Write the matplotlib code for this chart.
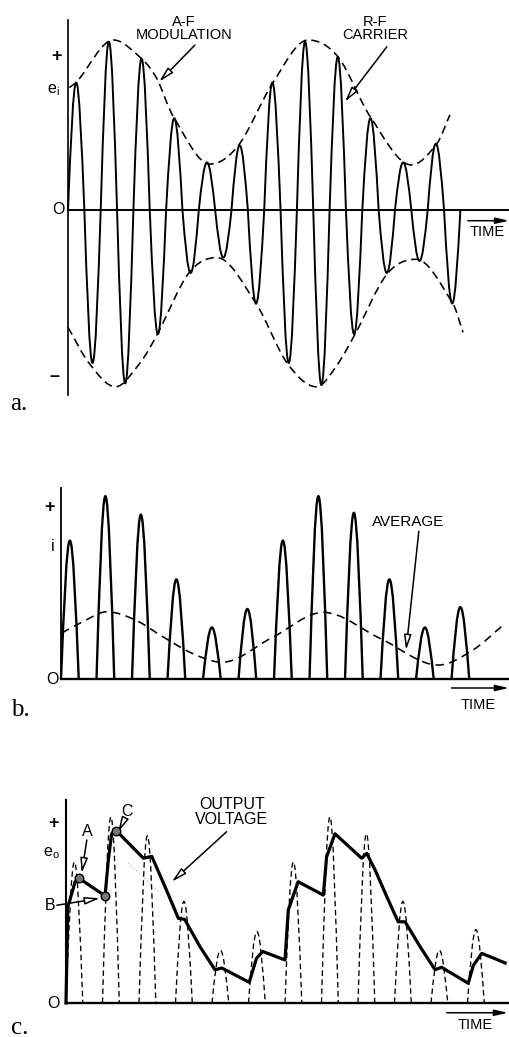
import numpy as np
import matplotlib
matplotlib.use('Agg')
import matplotlib.pyplot as plt
from matplotlib.path import Path
from matplotlib.patches import PathPatch

plt.rcParams['font.family'] = ['Liberation Sans', 'DejaVu Sans']
plt.rcParams['lines.scale_dashes'] = False

# Datos (tiempo en ciclos de RF, amplitud normalizada)
# Picos de cada semiciclo de la portadora modulada
picos_pos = [0.75, 0.99, 0.89, 0.54, 0.28, 0.38, 0.75, 0.99, 0.90, 0.54, 0.28, 0.39]
picos_neg = [-0.90, -1.02, -0.73, -0.37, -0.28, -0.55, -0.90, -1.03, -0.73, -0.37, -0.30, -0.55]

# Envolvente (modulacion A-F) en la figura a
env_sup_t = [0.04, 0.27, 1.39, 2.25, 2.71, 3.22, 4.34, 5.21, 6.27, 7.34, 8.26, 9.24, 10.5, 11.28, 11.68]
env_sup_v = [0.72, 0.755, 1.00, 0.89, 0.775, 0.55, 0.27, 0.38, 0.75, 1.00, 0.90, 0.55, 0.265, 0.39, 0.56]
env_inf_t = [0.0, 0.64, 1.45, 2.2, 2.72, 3.70, 4.55, 5.75, 6.70, 7.6, 8.2, 8.78, 9.76, 10.65, 11.77, 12.08]
env_inf_v = [-0.69, -0.90, -1.04, -0.90, -0.735, -0.37, -0.28, -0.55, -0.90, -1.04, -0.92, -0.73, -0.376, -0.29, -0.55, -0.72]

# Corriente promedio en la figura b
prom_t = [0.02, 0.6, 1.29, 2.1, 2.87, 3.7, 4.53, 5.96, 7.39, 9.0, 10.63, 11.6, 12.5]
prom_v = [0.25, 0.31, 0.365, 0.32, 0.23, 0.14, 0.092, 0.227, 0.362, 0.22, 0.077, 0.158, 0.30]

# Tension de salida en la figura c
sal_t = [0.0, 0.05, 0.25, 0.36, 1.07, 1.16, 1.25, 1.36, 2.12, 2.35, 2.71, 3.08, 3.25,
         3.67, 4.08, 4.27, 5.02, 5.22, 5.39, 6.0, 6.09, 6.36, 7.05, 7.14, 7.37, 8.10,
         8.24, 8.47, 8.79, 9.10, 9.29, 9.70, 10.11, 10.29, 11.02, 11.16, 11.39, 11.71, 12.03]
sal_v = [0.0, 0.51, 0.645, 0.663, 0.57, 0.76, 0.90, 0.92, 0.77, 0.78, 0.62, 0.45, 0.445,
         0.30, 0.177, 0.186, 0.11, 0.238, 0.274, 0.229, 0.495, 0.645, 0.574, 0.778, 0.90, 0.77,
         0.796, 0.707, 0.565, 0.432, 0.432, 0.30, 0.177, 0.19, 0.105, 0.20, 0.264, 0.239, 0.213]

# Puntos A, B, C
puntos_nombre = ['A', 'B', 'C']
puntos_t = [0.36, 1.07, 1.38]
puntos_v = [0.663, 0.57, 0.915]

W, H = 509, 1037
fig = plt.figure(figsize=(W / 100, H / 100), dpi=100)


def ejes(y0, y1, x_origen, px_ciclo, y_cero, px_unidad):
    ax = fig.add_axes([0, 1 - y1 / H, 1, (y1 - y0) / H])
    ax.set_xlim(-x_origen / px_ciclo, (W - x_origen) / px_ciclo)
    ax.set_ylim((y_cero - y1) / px_unidad, (y_cero - y0) / px_unidad)
    ax.axis('off')
    return ax


def lobulos(inicios, anchos, picos, unir=False):
    # semiciclos senoidales aproximados con curvas de Bezier
    verts, codes = [], []
    for i, (t0, w, p) in enumerate(zip(inicios, anchos, picos)):
        h = w / 2
        verts += [(t0, 0), (t0 + 0.3261 * h, 0.5123 * p), (t0 + 0.6381 * h, p), (t0 + h, p),
                  (t0 + 1.3619 * h, p), (t0 + 1.6739 * h, 0.5123 * p), (t0 + w, 0)]
        codes += [Path.LINETO if (unir and i > 0) else Path.MOVETO] + [Path.CURVE4] * 6
    return Path(verts, codes)


def curva_suave(ts, vs):
    # spline de Hermite dibujada como Bezier, pendiente cero en los extremos locales
    n = len(ts)
    m = []
    for i in range(n):
        if i == 0:
            m.append((vs[1] - vs[0]) / (ts[1] - ts[0]))
        elif i == n - 1:
            m.append((vs[-1] - vs[-2]) / (ts[-1] - ts[-2]))
        elif (vs[i] - vs[i - 1]) * (vs[i + 1] - vs[i]) <= 0:
            m.append(0.0)
        else:
            m.append((vs[i + 1] - vs[i - 1]) / (ts[i + 1] - ts[i - 1]))
    verts = [(ts[0], vs[0])]
    codes = [Path.MOVETO]
    for i in range(n - 1):
        dt = ts[i + 1] - ts[i]
        verts += [(ts[i] + dt / 3, vs[i] + m[i] * dt / 3),
                  (ts[i + 1] - dt / 3, vs[i + 1] - m[i + 1] * dt / 3),
                  (ts[i + 1], vs[i + 1])]
        codes += [Path.CURVE4] * 3
    return Path(verts, codes)


def flecha(ax, texto_xy, punta_xy, relleno='white', lw=1.1):
    ax.annotate('', xy=punta_xy, xytext=texto_xy,
                arrowprops=dict(arrowstyle='-|>,head_length=0.9,head_width=0.22',
                                lw=lw, fc=relleno, ec='black', shrinkA=0, shrinkB=0))


def flecha_tiempo(ax, t0, t1, v, v_txt):
    ax.annotate('', xy=(t1, v), xytext=(t0, v),
                arrowprops=dict(arrowstyle='-|>,head_length=0.8,head_width=0.18',
                                lw=1.1, fc='black', ec='black', shrinkA=0, shrinkB=0))
    ax.text((t0 + t1) / 2 - 0.05, v_txt, 'TIME', ha='center', va='center', fontsize=10.5)


n = len(picos_pos)
etiq = dict(ha='center', va='center')
signo = dict(ha='center', va='center', fontsize=13, fontweight='bold')

# ---------------- a. portadora modulada ----------------
ax1 = ejes(0, 420, 68, 32.7, 210, 170)
inicios = []
picos = []
for k in range(n):
    inicios += [k, k + 0.5]
    picos += [picos_pos[k], picos_neg[k]]
ax1.add_patch(PathPatch(lobulos(inicios, [0.5] * len(inicios), picos, unir=True),
                        fill=False, lw=1.4, ec='black', joinstyle='round'))
ax1.add_patch(PathPatch(curva_suave(env_sup_t, env_sup_v), fill=False, lw=1.15,
                        ec='black', linestyle=(0, (6, 3.5))))
ax1.add_patch(PathPatch(curva_suave(env_inf_t, env_inf_v), fill=False, lw=1.15,
                        ec='black', linestyle=(0, (6, 3.5))))
ax1.plot([0, 0], [-1.088, 1.118], color='black', lw=1.2)
ax1.plot([0, 13.5], [0, 0], color='black', lw=1.4)
ax1.text(-0.35, 0.90, '+', **signo)
ax1.text(-0.46, 0.706, r'$\mathregular{e_i}$', ha='center', va='center', fontsize=11.5)
ax1.text(-0.3, 0.0, 'O', ha='center', va='center', fontsize=11.5)
ax1.text(-0.4, -0.98, '\u2013', **signo)
ax1.text(3.55, 1.068, 'A-F\nMODULATION', linespacing=0.95, fontsize=10.5, **etiq)
flecha(ax1, (3.88, 0.97), (2.79, 0.755))
ax1.text(9.39, 1.068, 'R-F\nCARRIER', linespacing=0.95, fontsize=10.5, **etiq)
flecha(ax1, (9.75, 0.96), (8.47, 0.637))
flecha_tiempo(ax1, 12.23, 13.49, -0.063, -0.132)
fig.text(19 / W, 1 - 404 / H, 'a.', family='Liberation Serif', fontsize=18,
         ha='center', va='center')

# ---------------- b. corriente rectificada ----------------
ax2 = ejes(420, 730, 61, 35.5, 679.3, 185)
ax2.add_patch(PathPatch(lobulos(list(range(n)), [0.5] * n, picos_pos),
                        fill=False, lw=1.7, ec='black', joinstyle='round'))
ax2.add_patch(PathPatch(curva_suave(prom_t, prom_v), fill=False, lw=1.15,
                        ec='black', linestyle=(0, (6, 4))))
ax2.plot([0, 0], [0, 1.034], color='black', lw=1.3)
ax2.plot([0, 12.7], [0, 0], color='black', lw=1.7)
ax2.text(-0.31, 0.926, '+', **signo)
ax2.text(-0.234, 0.72, 'i', ha='center', va='center', fontsize=11.5)
ax2.text(-0.234, 0.0, 'O', ha='center', va='center', fontsize=11.5)
ax2.text(9.77, 0.85, 'AVERAGE', fontsize=11, **etiq)
flecha(ax2, (10.08, 0.80), (9.72, 0.158))
flecha_tiempo(ax2, 11.0, 12.62, -0.047, -0.138)
fig.text(20 / W, 1 - 710 / H, 'b.', family='Liberation Serif', fontsize=18,
         ha='center', va='center')

# ---------------- c. tension de salida ----------------
ax3 = ejes(730, 1037, 66, 36.5, 1003, 188)
ax3.add_patch(PathPatch(lobulos(list(range(n)), [0.46] * n, picos_pos),
                        fill=False, lw=0.95, ec='black', linestyle=(0, (4, 2.5))))
ax3.plot(sal_t, sal_v, color='black', lw=2.3, solid_joinstyle='round')
ax3.plot([1.70, 2.58], [0.745, 0.585], color='#aaaaaa', lw=0.6, linestyle=':')
ax3.scatter(puntos_t, puntos_v, s=38, facecolor='#777777', edgecolor='black',
            linewidth=1.0, zorder=5)
ax3.plot([0, 0], [0, 1.08], color='black', lw=1.5)
ax3.plot([0, 12.2], [0, 0], color='black', lw=1.7)
ax3.text(-0.35, 0.956, '+', **signo)
ax3.text(-0.39, 0.796, r'$\mathregular{e_o}$', ha='center', va='center', fontsize=11.5)
ax3.text(-0.35, 0.0, 'O', ha='center', va='center', fontsize=11.5)
ax3.text(0.57, 0.91, puntos_nombre[0], fontsize=11.5, **etiq)
flecha(ax3, (0.57, 0.867), (0.43, 0.69))
ax3.text(-0.44, 0.52, puntos_nombre[1], fontsize=11.5, **etiq)
flecha(ax3, (-0.25, 0.52), (0.93, 0.557))
ax3.text(1.68, 1.02, puntos_nombre[2], fontsize=11.5, **etiq)
flecha(ax3, (1.62, 0.984), (1.43, 0.91))
ax3.text(4.54, 1.016, 'OUTPUT\nVOLTAGE', linespacing=0.95, fontsize=11.5, **etiq)
flecha(ax3, (4.40, 0.911), (2.90, 0.645))
flecha_tiempo(ax3, 10.43, 12.11, -0.052, -0.117)
fig.text(20 / W, 1 - 1028 / H, 'c.', family='Liberation Serif', fontsize=18,
         ha='center', va='center')

fig.savefig('out.png', dpi=100, facecolor='white')
